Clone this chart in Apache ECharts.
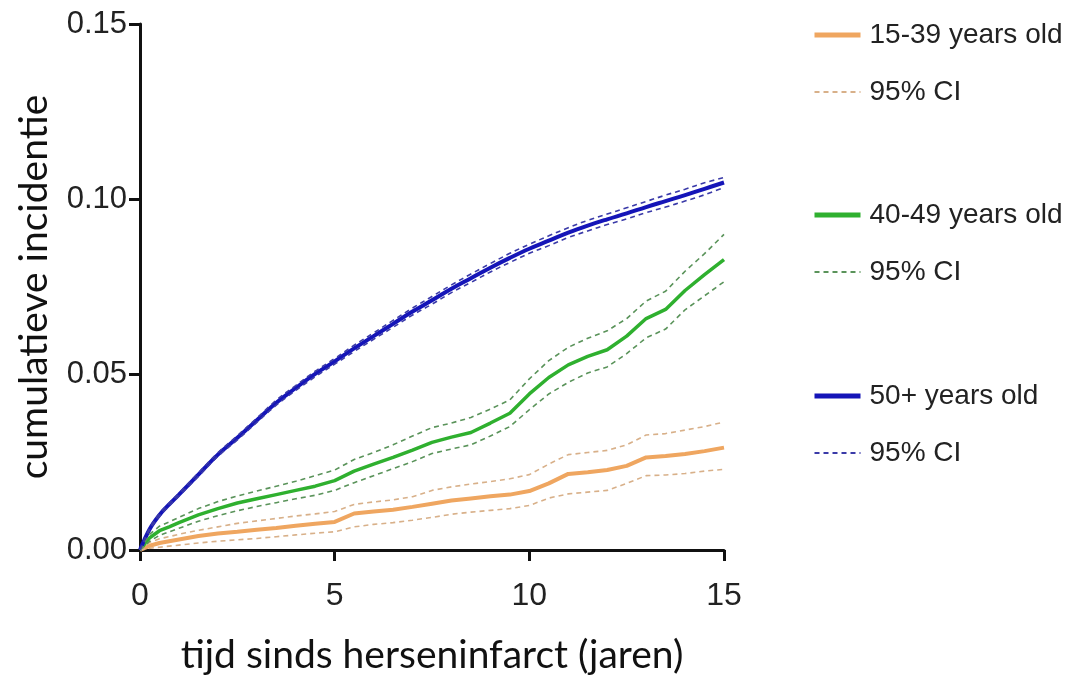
<!DOCTYPE html>
<html>
<head>
<meta charset="utf-8">
<script src="https://cdn.jsdelivr.net/npm/echarts@6/dist/echarts.min.js"></script>
<style>
  html, body { margin: 0; padding: 0; background: #ffffff; }
  #chart { width: 1075px; height: 680px; }
</style>
</head>
<body>
<div id="chart"></div>
<script>
// Time since stroke (years)
const years = [0, 0.25, 0.5, 0.75, 1, 1.5, 2, 2.5, 3, 3.5, 4, 4.5, 5, 5.5, 6, 6.5, 7, 7.5,
  8, 8.5, 9, 9.5, 10, 10.5, 11, 11.5, 12, 12.5, 13, 13.5, 14, 14.5, 15];

// 15-39 years old: cumulative incidence and 95% CI
const young = [0, 0.0012, 0.0020, 0.0025, 0.0030, 0.0040, 0.0047, 0.0052, 0.0058, 0.0063, 0.0069, 0.0075,
  0.0080, 0.0104, 0.0110, 0.0115, 0.0123, 0.0132, 0.0141, 0.0147, 0.0153, 0.0158, 0.0168, 0.0190,
  0.0217, 0.0222, 0.0228, 0.0240, 0.0264, 0.0268, 0.0274, 0.0282, 0.0292];
const youngUpper = [0, 0.0022, 0.0032, 0.0038, 0.0045, 0.0056, 0.0066, 0.0076, 0.0083, 0.0090, 0.0097, 0.0103,
  0.0110, 0.0130, 0.0137, 0.0143, 0.0152, 0.0170, 0.0180, 0.0188, 0.0195, 0.0203, 0.0215, 0.0245,
  0.0272, 0.0278, 0.0284, 0.0300, 0.0328, 0.0332, 0.0342, 0.0352, 0.0365];
const youngLower = [0, 0.0005, 0.0008, 0.0011, 0.0014, 0.0020, 0.0025, 0.0029, 0.0033, 0.0038, 0.0043, 0.0048,
  0.0052, 0.0066, 0.0073, 0.0078, 0.0085, 0.0093, 0.0102, 0.0108, 0.0113, 0.0118, 0.0127, 0.0148,
  0.0160, 0.0165, 0.0170, 0.0190, 0.0212, 0.0214, 0.0218, 0.0225, 0.0230];

// 40-49 years old
const middle = [0, 0.0035, 0.0055, 0.0066, 0.0078, 0.0100, 0.0118, 0.0134, 0.0146, 0.0158, 0.0170, 0.0182,
  0.0198, 0.0225, 0.0245, 0.0264, 0.0285, 0.0307, 0.0322, 0.0335, 0.0362, 0.0390, 0.0445, 0.0492,
  0.0528, 0.0552, 0.0571, 0.0610, 0.0660, 0.0686, 0.0740, 0.0785, 0.0828];
const middleUpper = [0, 0.0045, 0.0068, 0.0080, 0.0093, 0.0118, 0.0138, 0.0154, 0.0168, 0.0182, 0.0196, 0.0212,
  0.0228, 0.0258, 0.0278, 0.0300, 0.0325, 0.0349, 0.0362, 0.0378, 0.0402, 0.0428, 0.0488, 0.0540,
  0.0578, 0.0604, 0.0625, 0.0660, 0.0710, 0.0738, 0.0795, 0.0845, 0.0900];
const middleLower = [0, 0.0025, 0.0042, 0.0052, 0.0062, 0.0082, 0.0098, 0.0112, 0.0124, 0.0135, 0.0146, 0.0156,
  0.0170, 0.0192, 0.0212, 0.0232, 0.0252, 0.0275, 0.0288, 0.0300, 0.0325, 0.0352, 0.0400, 0.0445,
  0.0478, 0.0505, 0.0522, 0.0560, 0.0605, 0.0630, 0.0685, 0.0725, 0.0765];

// 50+ years old
const older = [0, 0.0060, 0.0100, 0.0130, 0.0158, 0.0215, 0.0272, 0.0320, 0.0370, 0.0420, 0.0462, 0.0502,
  0.0538, 0.0575, 0.0610, 0.0645, 0.0680, 0.0712, 0.0745, 0.0775, 0.0805, 0.0833, 0.0859, 0.0882,
  0.0905, 0.0925, 0.0943, 0.0960, 0.0978, 0.0995, 0.1012, 0.1030, 0.1048];
const olderUpper = [0, 0.0063, 0.0104, 0.0134, 0.0162, 0.0220, 0.0277, 0.0326, 0.0376, 0.0427, 0.0469, 0.0510,
  0.0546, 0.0584, 0.0619, 0.0655, 0.0690, 0.0723, 0.0756, 0.0787, 0.0817, 0.0846, 0.0872, 0.0896,
  0.0919, 0.0940, 0.0958, 0.0976, 0.0994, 0.1012, 0.1029, 0.1047, 0.1062];
const olderLower = [0, 0.0057, 0.0096, 0.0126, 0.0154, 0.0210, 0.0267, 0.0314, 0.0364, 0.0413, 0.0455, 0.0494,
  0.0530, 0.0566, 0.0601, 0.0635, 0.0670, 0.0701, 0.0734, 0.0763, 0.0793, 0.0820, 0.0846, 0.0868,
  0.0891, 0.0910, 0.0928, 0.0944, 0.0962, 0.0978, 0.0995, 0.1013, 0.1034];

const groupNames = ['15-39 years old', '40-49 years old', '50+ years old'];
const ciNames = ['95% CI 15-39', '95% CI 40-49', '95% CI 50+'];
const yTicks = [0, 0.05, 0.10, 0.15];
const xTicks = [0, 5, 10, 15];

const pairs = arr => years.map((t, i) => [t, arr[i]]);

const labelFont = '"Liberation Sans", Arial, sans-serif';
const titleFont = 'Lato, "Open Sans", sans-serif';

function mainLine(name, data, color, width, smooth) {
  return {
    name, type: 'line', data: pairs(data), symbol: 'none', showSymbol: false, z: 2, smooth,
    lineStyle: { color, width }, itemStyle: { color },
    emphasis: { disabled: true }
  };
}
function ciLine(name, data, color, smooth) {
  return {
    name, type: 'line', data: pairs(data), symbol: 'none', showSymbol: false, z: 3, smooth,
    lineStyle: { color, width: 1.6, type: [5, 4] }, itemStyle: { color },
    emphasis: { disabled: true }
  };
}

const colors = {
  young: '#EFA660', youngCi: '#D8B089',
  middle: '#2FB02F', middleCi: '#5A935A',
  older: '#1515B8', olderCi: '#3A3AA8'
};

// Legend block: the group's line (drawn thick) and its dashed 95% CI
function legendBlock(top, groupName, ciName) {
  return {
    orient: 'vertical', left: 807, top, itemWidth: 46, itemHeight: 14, itemGap: 23,
    data: [
      { name: groupName, lineStyle: { width: 5 } },
      { name: ciName, lineStyle: { width: 2 } }
    ],
    selectedMode: false,
    itemStyle: { opacity: 0 },
    formatter: n => (n.indexOf('95% CI') === 0 ? '95% CI' : n),
    textStyle: { fontFamily: labelFont, fontSize: 28, color: '#222', lineHeight: 34, padding: [0, 0, 0, 4] }
  };
}

const chart = echarts.init(document.getElementById('chart'), null, { renderer: 'canvas' });
chart.setOption({
  backgroundColor: '#ffffff',
  animation: false,
  grid: { left: 140, right: 351, top: 24, bottom: 127, containLabel: false },
  legend: [
    legendBlock(13, groupNames[0], ciNames[0]),
    legendBlock(193, groupNames[1], ciNames[1]),
    legendBlock(374, groupNames[2], ciNames[2])
  ],
  xAxis: {
    type: 'value', min: 0, max: 15, interval: 5,
    name: 'tijd sinds herseninfarct (jaren)', nameLocation: 'middle', nameGap: 86,
    nameTextStyle: { fontFamily: titleFont, fontSize: 39, color: '#111' },
    axisLine: { lineStyle: { color: '#111', width: 3 } },
    axisTick: { show: true, length: 11, lineStyle: { color: '#111', width: 3 } },
    axisLabel: { fontFamily: labelFont, fontSize: 32, color: '#222', margin: 30,
      formatter: v => (xTicks.indexOf(v) >= 0 ? String(v) : '') },
    splitLine: { show: false }
  },
  yAxis: {
    type: 'value', min: 0, max: 0.15, interval: 0.05,
    name: 'cumulatieve incidentie', nameLocation: 'middle', nameGap: 86, nameRotate: 90,
    nameTextStyle: { fontFamily: titleFont, fontSize: 39, color: '#111' },
    axisLine: { show: true, lineStyle: { color: '#111', width: 3 } },
    axisTick: { show: true, length: 11, lineStyle: { color: '#111', width: 3 } },
    axisLabel: { fontFamily: labelFont, fontSize: 31, color: '#222', margin: 13,
      formatter: v => (yTicks.some(t => Math.abs(t - v) < 1e-9) ? v.toFixed(2) : '') },
    splitLine: { show: false }
  },
  series: [
    mainLine(groupNames[0], young, colors.young, 4, false),
    ciLine(ciNames[0], youngUpper, colors.youngCi, false),
    ciLine(ciNames[0], youngLower, colors.youngCi, false),
    mainLine(groupNames[1], middle, colors.middle, 3.5, false),
    ciLine(ciNames[1], middleUpper, colors.middleCi, false),
    ciLine(ciNames[1], middleLower, colors.middleCi, false),
    mainLine(groupNames[2], older, colors.older, 4, 0.4),
    ciLine(ciNames[2], olderUpper, colors.olderCi, 0.4),
    ciLine(ciNames[2], olderLower, colors.olderCi, 0.4)
  ]
});
</script>
</body>
</html>
